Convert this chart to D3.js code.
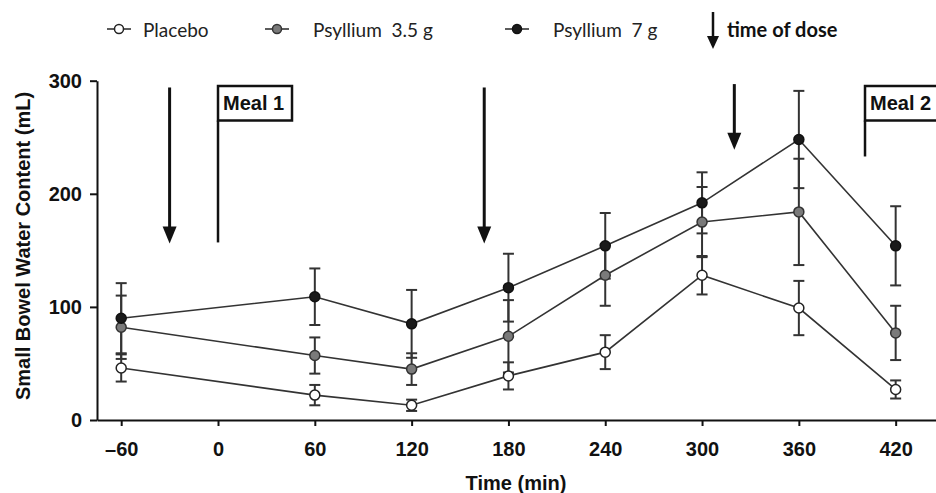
<!DOCTYPE html>
<html>
<head>
<meta charset="utf-8">
<script src="https://cdn.jsdelivr.net/npm/d3@7"></script>
<style>
  html, body { margin: 0; padding: 0; background: #fff; }
  svg { display: block; }
</style>
</head>
<body>
<svg id="chart" width="936" height="493"></svg>
<script>
// ---- data ----
const times = [-60, 60, 120, 180, 240, 300, 360, 420];
const placebo = [46, 22, 13, 39, 60, 128, 99, 27];
const placeboSem = [12, 9, 5, 12, 15, 17, 24, 8];
const psyllium35 = [82, 57, 45, 74, 128, 175, 184, 77];
const psyllium35Sem = [28, 16, 14, 32, 27, 31, 47, 24];
const psyllium7 = [90, 109, 85, 117, 154, 192, 248, 154];
const psyllium7Sem = [31, 25, 30, 30, 29, 27, 43, 35];
const seriesNames = ["Placebo", "Psyllium  3.5 g", "Psyllium  7 g"];
const xTicks = [-60, 0, 60, 120, 180, 240, 300, 360, 420];
const yTicks = [0, 100, 200, 300];
const doseTimes = [-30, 165, 320];
const doseFrom = [294, 294, 297];
const doseTo = [156, 156, 239];
const mealNames = ["Meal 1", "Meal 2"];
const mealTimes = [0, 401];
const mealLineBottom = [157, 233];

// ---- setup ----
const svg = d3.select("#chart");
const x = d3.scaleLinear().domain([-75, 445]).range([97, 936]);
const y = d3.scaleLinear().domain([0, 300]).range([420, 80.7]);
const axisFont = "'Liberation Sans', Arial, sans-serif";
const legendFont = "Lato, 'Open Sans', sans-serif";

const series = [
  { name: seriesNames[0], vals: placebo, sem: placeboSem, fill: "#ffffff", stroke: "#222" },
  { name: seriesNames[1], vals: psyllium35, sem: psyllium35Sem, fill: "#7a7a7a", stroke: "#333" },
  { name: seriesNames[2], vals: psyllium7, sem: psyllium7Sem, fill: "#1a1a1a", stroke: "#111" }
];

// ---- axes ----
const yAxis = svg.append("g")
  .attr("transform", `translate(${x.range()[0]},0)`)
  .call(d3.axisLeft(y).tickValues(yTicks).tickSize(7).tickSizeOuter(0).tickPadding(8));
yAxis.select(".domain").attr("stroke", "#111").attr("stroke-width", 2);
yAxis.selectAll(".tick line").attr("stroke", "#111").attr("stroke-width", 2);
yAxis.selectAll(".tick text").attr("font-family", axisFont).attr("font-weight", "bold")
  .attr("font-size", 20).attr("fill", "#111");

const xAxis = svg.append("g")
  .attr("transform", `translate(0,${y(0)})`)
  .call(d3.axisBottom(x).tickValues(xTicks).tickSize(6).tickSizeOuter(0).tickPadding(16)
    .tickFormat(d => d < 0 ? "\u2013" + Math.abs(d) : String(d)));
xAxis.select(".domain").attr("stroke", "#111").attr("stroke-width", 2);
xAxis.selectAll(".tick line").attr("stroke", "#111").attr("stroke-width", 2);
xAxis.selectAll(".tick text").attr("font-family", axisFont).attr("font-weight", "bold")
  .attr("font-size", 20).attr("fill", "#111");

svg.append("text")
  .attr("x", 516).attr("y", 490)
  .attr("text-anchor", "middle")
  .attr("font-family", axisFont).attr("font-weight", "bold").attr("font-size", 20)
  .attr("fill", "#111")
  .text("Time (min)");

svg.append("text")
  .attr("transform", "translate(30,246) rotate(-90)")
  .attr("text-anchor", "middle")
  .attr("font-family", axisFont).attr("font-weight", "bold").attr("font-size", 20)
  .attr("fill", "#111")
  .text("Small Bowel Water Content (mL)");

// ---- arrowhead marker ----
const defs = svg.append("defs");
defs.append("marker")
  .attr("id", "ah").attr("viewBox", "0 0 10 10")
  .attr("refX", 5).attr("refY", 10)
  .attr("markerWidth", 15).attr("markerHeight", 17)
  .attr("markerUnits", "userSpaceOnUse")
  .attr("orient", "auto-start-reverse")
  .append("path").attr("d", "M0,0 L10,0 L5,10 Z").attr("fill", "#111");

// ---- dose arrows ----
svg.append("g").selectAll("g").data(doseTimes).join("g").each(function (t, i) {
  const g = d3.select(this);
  g.append("line")
    .attr("x1", x(t)).attr("x2", x(t))
    .attr("y1", y(doseFrom[i])).attr("y2", y(doseTo[i]) - 16)
    .attr("stroke", "#111").attr("stroke-width", 3);
  g.append("path")
    .attr("d", `M${x(t) - 7},${y(doseTo[i]) - 17} L${x(t) + 7},${y(doseTo[i]) - 17} L${x(t)},${y(doseTo[i])} Z`)
    .attr("fill", "#111");
});

// ---- meal flags ----
svg.append("g").selectAll("g").data(mealTimes).join("g").each(function (t, i) {
  const g = d3.select(this);
  const mx = x(t);
  const top = 86, bot = 120.5;
  g.append("line")
    .attr("x1", mx).attr("x2", mx)
    .attr("y1", y(mealLineBottom[i])).attr("y2", bot)
    .attr("stroke", "#111").attr("stroke-width", 2.5);
  g.append("rect")
    .attr("x", mx).attr("y", top).attr("width", 74).attr("height", bot - top)
    .attr("fill", "#fff").attr("stroke", "#111").attr("stroke-width", 2.5);
  g.append("text")
    .attr("x", mx + 5).attr("y", 110)
    .attr("font-family", axisFont).attr("font-weight", "bold").attr("font-size", 20)
    .attr("fill", "#111")
    .text(mealNames[i]);
});

// ---- series ----
const line = d3.line().x((d, i) => x(times[i])).y(d => y(d));
const plot = svg.append("g");
series.forEach(s => {
  plot.append("path")
    .datum(s.vals)
    .attr("d", line)
    .attr("fill", "none").attr("stroke", "#333").attr("stroke-width", 1.6);
});
series.forEach(s => {
  const eb = plot.append("g");
  s.vals.forEach((v, i) => {
    const cx = x(times[i]);
    const hi = y(v + s.sem[i]), lo = y(v - s.sem[i]);
    eb.append("line").attr("x1", cx).attr("x2", cx).attr("y1", hi).attr("y2", lo)
      .attr("stroke", "#333").attr("stroke-width", 2);
    [hi, lo].forEach(yy => {
      eb.append("line").attr("x1", cx - 5.5).attr("x2", cx + 5.5).attr("y1", yy).attr("y2", yy)
        .attr("stroke", "#333").attr("stroke-width", 2);
    });
  });
});
series.forEach(s => {
  plot.append("g").selectAll("circle").data(s.vals).join("circle")
    .attr("cx", (d, i) => x(times[i])).attr("cy", d => y(d))
    .attr("r", 5)
    .attr("fill", s.fill).attr("stroke", s.stroke).attr("stroke-width", 1.5);
});

// ---- legend ----
const legendX = [119, 277, 517];
const legendTextX = [143, 313, 553];
const leg = svg.append("g");
series.forEach((s, i) => {
  leg.append("line")
    .attr("x1", legendX[i] - 12).attr("x2", legendX[i] + 12)
    .attr("y1", 29).attr("y2", 29)
    .attr("stroke", "#333").attr("stroke-width", 1.6);
  leg.append("circle")
    .attr("cx", legendX[i]).attr("cy", 29).attr("r", 4.5)
    .attr("fill", s.fill).attr("stroke", s.stroke).attr("stroke-width", 1.5);
  leg.append("text")
    .attr("x", legendTextX[i]).attr("y", 37)
    .attr("font-family", legendFont).attr("font-size", 19)
    .attr("fill", "#222")
    .style("white-space", "pre")
    .text(s.name);
});
leg.append("line")
  .attr("x1", 713).attr("x2", 713).attr("y1", 12).attr("y2", 38)
  .attr("stroke", "#111").attr("stroke-width", 2.5);
leg.append("path")
  .attr("d", "M707,36 L719,36 L713,49 Z").attr("fill", "#111");
leg.append("text")
  .attr("x", 727).attr("y", 37)
  .attr("font-family", legendFont).attr("font-weight", "bold").attr("font-size", 20)
  .attr("fill", "#111")
  .text("time of dose");
</script>
</body>
</html>
